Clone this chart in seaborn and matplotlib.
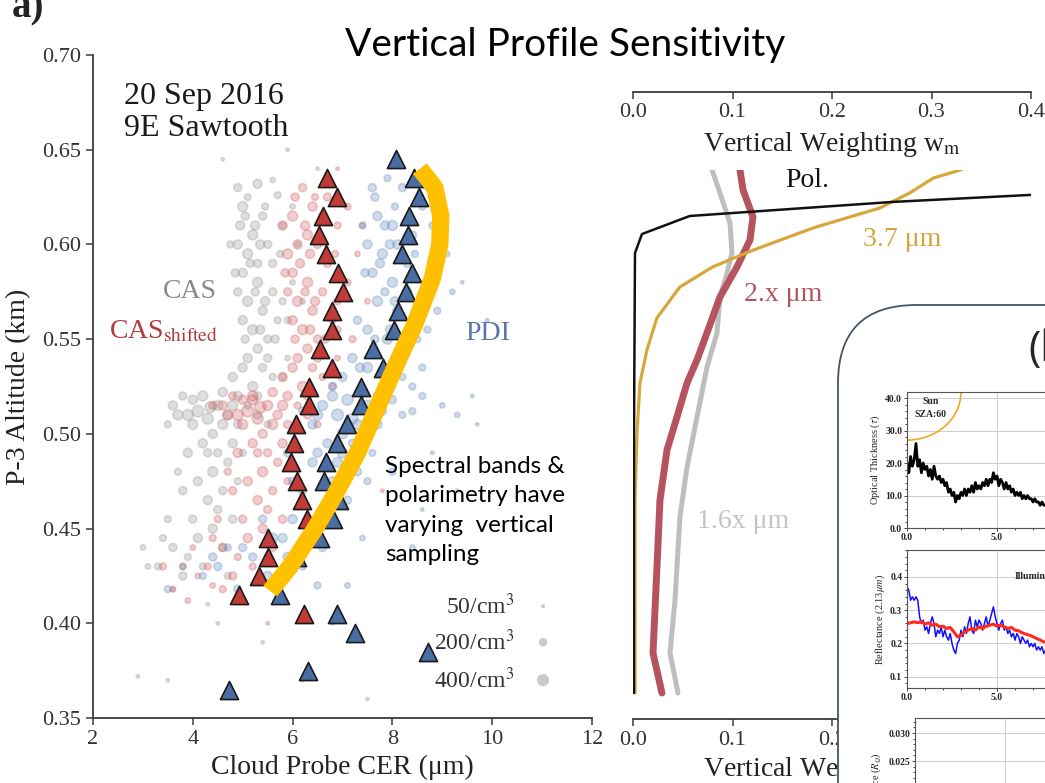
import numpy as np
import pandas as pd
import matplotlib
matplotlib.use("Agg")
import matplotlib.pyplot as plt
import seaborn as sns
from matplotlib.patches import FancyBboxPatch, Arc
from matplotlib.ticker import AutoMinorLocator, FormatStrFormatter

# ---------------- data ----------------
# cloud probe clouds: (CER um, altitude km, concentration /cm3)
cas_pts = [
    (4.9, 0.630, 200), (5.1, 0.625, 150), (5.3, 0.632, 250), (5.6, 0.634, 100), (5.0, 0.620, 300),
    (5.4, 0.615, 200), (4.95, 0.610, 250), (5.2, 0.605, 300), (5.5, 0.600, 200), (5.8, 0.610, 150),
    (5.1, 0.595, 300), (4.9, 0.600, 250), (5.3, 0.590, 200), (6.0, 0.620, 100), (5.7, 0.626, 150),
    (5.0, 0.585, 250), (5.3, 0.580, 300), (5.6, 0.575, 200), (5.1, 0.570, 300), (5.4, 0.565, 250),
    (5.8, 0.570, 150), (5.2, 0.555, 300), (5.5, 0.550, 200), (5.0, 0.560, 250), (5.7, 0.560, 150),
    (5.3, 0.545, 250), (6.0, 0.580, 100), (4.9, 0.575, 200), (5.1, 0.540, 250), (5.4, 0.535, 200),
    (4.8, 0.530, 250), (5.2, 0.525, 300), (5.6, 0.530, 150), (4.9, 0.520, 250), (5.9, 0.540, 100),
    (5.05, 0.615, 200), (5.25, 0.610, 250), (5.45, 0.620, 150), (5.15, 0.590, 200), (5.35, 0.600, 250),
    (5.6, 0.590, 200), (5.75, 0.595, 150), (4.85, 0.585, 200), (5.45, 0.570, 250), (5.25, 0.575, 200),
    (5.65, 0.550, 200), (5.9, 0.560, 150), (5.35, 0.555, 250), (5.05, 0.550, 200), (5.5, 0.540, 200),
    (5.8, 0.530, 150), (5.0, 0.535, 250), (5.3, 0.520, 200), (6.1, 0.600, 100), (6.2, 0.570, 100),
    (4.75, 0.600, 150),
    (3.6, 0.515, 250), (3.9, 0.510, 350), (4.1, 0.512, 400), (4.3, 0.508, 350), (4.5, 0.515, 300),
    (4.7, 0.510, 250), (4.0, 0.505, 300), (4.4, 0.500, 250), (4.9, 0.505, 200), (3.8, 0.520, 200),
    (4.6, 0.522, 250), (5.1, 0.515, 150), (3.5, 0.505, 150), (4.2, 0.520, 300), (4.0, 0.518, 250),
    (4.8, 0.515, 300), (5.3, 0.510, 200), (3.7, 0.510, 300), (4.35, 0.514, 350), (4.6, 0.505, 300),
    (5.5, 0.505, 150),
    (4.2, 0.495, 250), (4.5, 0.490, 200), (3.9, 0.490, 250), (4.4, 0.480, 300), (4.7, 0.485, 200),
    (4.1, 0.475, 250), (4.6, 0.470, 200), (3.7, 0.480, 150), (4.9, 0.475, 150), (4.3, 0.465, 250),
    (5.0, 0.490, 150), (4.3, 0.490, 200), (4.8, 0.495, 250), (3.8, 0.470, 200), (4.5, 0.460, 200),
    (4.0, 0.455, 200), (4.4, 0.450, 250), (3.6, 0.440, 200), (3.9, 0.435, 150), (4.6, 0.440, 200),
    (3.3, 0.430, 150), (3.8, 0.425, 200), (4.2, 0.430, 150), (3.1, 0.430, 100), (4.1, 0.445, 250),
    (3.5, 0.455, 150), (4.8, 0.455, 200), (3.0, 0.440, 100), (3.4, 0.445, 150), (4.7, 0.425, 150),
    (3.6, 0.418, 100),
    (4.5, 0.400, 50), (5.4, 0.390, 50), (6.2, 0.370, 50), (3.5, 0.370, 50), (7.5, 0.360, 50),
    (2.9, 0.372, 50), (6.8, 0.400, 50), (4.3, 0.410, 50), (5.9, 0.650, 50), (4.6, 0.645, 50),
    (6.5, 0.640, 50),
]
shifted_pts = [
    (6.2, 0.630, 200), (6.4, 0.620, 250), (6.0, 0.615, 300), (5.8, 0.610, 250), (6.3, 0.605, 300),
    (6.6, 0.615, 200), (6.1, 0.600, 250), (5.9, 0.595, 300), (6.5, 0.600, 200), (6.9, 0.610, 150),
    (7.1, 0.620, 150), (6.7, 0.625, 200), (6.0, 0.585, 250), (6.3, 0.580, 300), (6.6, 0.575, 200),
    (6.1, 0.570, 300), (6.4, 0.565, 250), (6.9, 0.570, 150), (6.2, 0.555, 300), (6.5, 0.550, 200),
    (6.0, 0.560, 250), (6.8, 0.560, 150), (6.3, 0.545, 250), (7.1, 0.580, 150), (5.9, 0.575, 200),
    (7.3, 0.595, 100), (6.1, 0.540, 250), (6.4, 0.535, 200), (5.8, 0.530, 250), (6.2, 0.525, 300),
    (6.6, 0.530, 150), (5.9, 0.520, 250), (6.9, 0.540, 100),
    (6.05, 0.625, 200), (6.25, 0.610, 250), (6.45, 0.625, 150), (6.15, 0.590, 250), (6.35, 0.595, 250),
    (6.7, 0.590, 200), (6.85, 0.595, 150), (5.85, 0.585, 200), (6.45, 0.570, 250), (6.25, 0.575, 200),
    (6.65, 0.550, 200), (6.9, 0.555, 150), (6.35, 0.555, 250), (6.05, 0.550, 200), (6.5, 0.540, 200),
    (6.8, 0.525, 150), (6.0, 0.535, 250), (6.3, 0.520, 200), (7.4, 0.610, 100), (7.5, 0.570, 100),
    (7.2, 0.550, 150),
    (4.6, 0.515, 250), (4.9, 0.510, 350), (5.1, 0.512, 400), (5.3, 0.508, 350), (5.5, 0.515, 300),
    (5.7, 0.510, 250), (5.0, 0.505, 300), (5.4, 0.500, 250), (5.9, 0.505, 200), (4.8, 0.520, 200),
    (5.6, 0.522, 250), (6.1, 0.515, 150), (5.2, 0.518, 300), (5.2, 0.520, 300), (5.0, 0.518, 250),
    (5.8, 0.515, 300), (6.3, 0.510, 200), (4.7, 0.510, 300), (5.35, 0.514, 400), (5.6, 0.505, 300),
    (6.5, 0.505, 150), (4.4, 0.515, 200),
    (5.2, 0.495, 250), (5.5, 0.490, 200), (4.9, 0.490, 250), (5.4, 0.480, 300), (5.7, 0.485, 200),
    (5.1, 0.475, 250), (5.6, 0.470, 200), (4.7, 0.480, 150), (5.9, 0.475, 150), (5.3, 0.465, 250),
    (5.3, 0.490, 200), (5.8, 0.495, 250), (4.8, 0.470, 200), (5.5, 0.460, 200),
    (5.0, 0.455, 200), (5.4, 0.450, 250), (4.6, 0.440, 200), (4.9, 0.435, 150), (5.6, 0.440, 200),
    (4.3, 0.430, 150), (4.8, 0.425, 200), (5.2, 0.430, 150), (4.1, 0.425, 100), (3.8, 0.430, 150),
    (5.1, 0.445, 250), (4.5, 0.455, 150), (5.8, 0.455, 200), (4.0, 0.440, 100), (4.4, 0.445, 150),
    (3.4, 0.430, 150), (3.6, 0.418, 100), (4.6, 0.418, 150), (3.9, 0.412, 100),
    (5.5, 0.400, 50), (4.4, 0.420, 100), (7.8, 0.470, 50), (6.9, 0.640, 50), (7.6, 0.500, 50),
]
pdi_pts = [
    (7.6, 0.630, 200), (7.9, 0.635, 150), (8.2, 0.630, 200), (8.6, 0.620, 150), (7.7, 0.615, 250),
    (8.0, 0.610, 300), (8.4, 0.605, 200), (7.5, 0.600, 250), (7.8, 0.595, 300), (8.1, 0.600, 250),
    (8.8, 0.610, 150), (7.4, 0.610, 150), (8.7, 0.630, 100), (7.6, 0.585, 250), (8.0, 0.580, 300),
    (8.3, 0.575, 250), (7.7, 0.570, 300), (8.1, 0.565, 250), (8.6, 0.570, 200), (7.5, 0.555, 250),
    (7.9, 0.550, 300), (8.5, 0.550, 150), (9.2, 0.575, 100), (7.3, 0.560, 200), (8.9, 0.585, 150),
    (7.2, 0.540, 250), (7.5, 0.535, 300), (7.0, 0.530, 250), (7.8, 0.525, 200), (8.2, 0.530, 150),
    (6.8, 0.525, 200), (8.6, 0.535, 150),
    (7.65, 0.625, 200), (7.85, 0.610, 250), (8.05, 0.620, 150), (7.75, 0.590, 250), (7.95, 0.600, 250),
    (8.3, 0.590, 200), (8.45, 0.595, 150), (7.45, 0.585, 200), (8.05, 0.570, 250), (7.85, 0.575, 200),
    (8.25, 0.550, 200), (8.7, 0.555, 150), (7.95, 0.555, 250), (7.65, 0.550, 200), (8.1, 0.540, 200),
    (8.4, 0.525, 150), (7.35, 0.535, 250), (7.7, 0.520, 200), (9.0, 0.610, 150), (9.1, 0.595, 100),
    (8.9, 0.565, 150), (9.4, 0.580, 50),
    (6.6, 0.515, 300), (6.9, 0.510, 400), (7.2, 0.508, 350), (7.5, 0.515, 300), (6.4, 0.505, 250),
    (7.0, 0.500, 300), (7.8, 0.512, 200), (8.2, 0.510, 150), (8.6, 0.520, 150), (9.0, 0.515, 100),
    (6.2, 0.512, 200), (7.4, 0.522, 250), (6.8, 0.520, 300), (7.1, 0.518, 350), (7.3, 0.505, 300),
    (6.5, 0.510, 300), (7.7, 0.505, 250), (8.0, 0.518, 200), (8.4, 0.512, 150), (9.3, 0.510, 100),
    (9.7, 0.505, 50),
    (6.7, 0.495, 250), (7.0, 0.490, 300), (6.4, 0.485, 250), (7.3, 0.480, 200), (6.8, 0.475, 250),
    (7.6, 0.490, 150), (6.2, 0.470, 200), (7.1, 0.465, 200), (8.0, 0.480, 150), (5.9, 0.490, 200),
    (6.5, 0.490, 250), (6.9, 0.485, 300), (7.2, 0.495, 200), (7.5, 0.475, 150), (6.0, 0.475, 200),
    (6.6, 0.460, 250),
    (6.0, 0.455, 250), (6.4, 0.450, 200), (5.6, 0.445, 300), (5.9, 0.435, 250), (6.6, 0.440, 200),
    (5.2, 0.435, 200), (5.5, 0.425, 250), (4.5, 0.430, 200), (4.2, 0.425, 150), (6.2, 0.430, 150),
    (5.4, 0.455, 200), (5.8, 0.445, 250), (5.0, 0.440, 200), (4.7, 0.440, 150), (4.4, 0.435, 200),
    (3.8, 0.430, 100), (3.5, 0.418, 150), (4.9, 0.418, 200), (6.5, 0.420, 150), (7.4, 0.445, 100),
    (9.3, 0.470, 50), (8.4, 0.440, 100), (7.1, 0.420, 100), (9.6, 0.520, 50), (9.9, 0.560, 50),
    (8.8, 0.490, 50), (8.6, 0.460, 50),
]

# probe-mean profiles (triangles)
shifted_alt = [0.635, 0.625, 0.615, 0.605, 0.595, 0.585, 0.575, 0.565, 0.555, 0.545, 0.535, 0.525,
               0.515, 0.505, 0.495, 0.485, 0.475, 0.465, 0.455, 0.445, 0.435, 0.425, 0.415, 0.405]
shifted_cer = [6.69, 6.89, 6.61, 6.53, 6.67, 6.91, 7.01, 6.79, 6.79, 6.55, 6.79, 6.33,
               6.33, 6.07, 6.03, 5.97, 6.09, 6.19, 6.29, 5.51, 5.51, 5.33, 4.93, 6.23]
pdi_alt = [0.645, 0.635, 0.625, 0.615, 0.605, 0.595, 0.585, 0.575, 0.565, 0.555, 0.545, 0.535, 0.525, 0.515,
           0.505, 0.495, 0.485, 0.475, 0.465, 0.455, 0.445, 0.435, 0.415, 0.405, 0.395, 0.385, 0.375, 0.365]
pdi_cer = [8.07, 8.43, 8.53, 8.33, 8.31, 8.19, 8.39, 8.27, 8.11, 8.03, 7.61, 7.81, 7.37, 7.37,
           7.09, 6.89, 6.67, 6.63, 6.92, 6.80, 6.55, 6.09, 5.75, 6.88, 7.26, 8.72, 6.31, 4.72]

# highlighted band
band_cer = [8.55, 8.85, 8.97, 8.95, 8.80, 8.45, 8.05, 7.60, 7.30, 6.85, 6.45, 5.95, 5.55]
band_alt = [0.640, 0.630, 0.615, 0.600, 0.582, 0.558, 0.535, 0.508, 0.490, 0.468, 0.450, 0.430, 0.417]

legend_conc = [50, 200, 400]
legend_alt = [0.409, 0.390, 0.370]

# vertical weighting profiles
pol_w = [0.40, 0.261, 0.057, 0.009, 0.002, 0.001, 0.001]
pol_alt = [0.6253, 0.6216, 0.6142, 0.6047, 0.5947, 0.50, 0.3632]
w37 = [0.345, 0.329, 0.302, 0.278, 0.248, 0.181, 0.121, 0.080, 0.047, 0.024, 0.014, 0.007, 0.004, 0.002, 0.002]
alt37 = [0.643, 0.6384, 0.6342, 0.6263, 0.6184, 0.6079, 0.5963, 0.5874, 0.5768, 0.5605, 0.5437, 0.5263,
         0.50, 0.4647, 0.3632]
w2x = [0.1075, 0.1106, 0.1206, 0.1176, 0.1045, 0.0874, 0.0754, 0.0643, 0.0543, 0.0442, 0.0342, 0.0271,
       0.0241, 0.0201, 0.0291]
alt2x = [0.6384, 0.6279, 0.6137, 0.6016, 0.5874, 0.5716, 0.5542, 0.5384, 0.5263, 0.5084, 0.4911, 0.4647,
         0.4295, 0.3842, 0.3632]
w16 = [0.0794, 0.0874, 0.0975, 0.0995, 0.0945, 0.0874, 0.0844, 0.0744, 0.0643, 0.0543, 0.0472, 0.0422,
       0.0372, 0.0452]
alt16 = [0.6384, 0.6263, 0.6105, 0.5947, 0.5842, 0.5716, 0.5526, 0.5347, 0.5084, 0.4821, 0.4558, 0.4121,
         0.3842, 0.3632]

# inset panels
tau = [20, 17, 22, 19, 21, 26, 19, 21, 17, 20,
       18, 19, 16, 18, 15, 19, 16, 15, 16, 14,
       15, 13, 14, 11, 12, 10, 11, 8, 10, 9,
       11, 10, 12, 10, 12, 11, 13, 11, 14, 12,
       13, 12, 14, 13, 15, 13, 15, 14, 17, 15,
       16, 13, 15, 14, 12, 14, 12, 13, 11, 12,
       10, 11, 10, 11, 9, 10, 9, 10, 9, 9,
       8, 9, 8, 8, 7, 8, 7, 7]
refl_blue = [.37, .36, .33, .34, .33, .34, .33, .28, .26, .27,
             .24, .25, .23, .26, .28, .26, .22, .24, .23, .25,
             .22, .24, .22, .21, .23, .20, .18, .17, .20, .21,
             .24, .22, .25, .23, .26, .28, .24, .23, .27, .25,
             .27, .26, .24, .26, .28, .25, .27, .29, .31, .28,
             .26, .24, .26, .27, .24, .25, .23, .24, .22, .23,
             .21, .23, .22, .20, .22, .21, .20, .21, .19, .20,
             .19, .20, .18, .19, .18, .19, .17, .18]
refl_red = [0.26, 0.262, 0.265, 0.262, 0.266, 0.258, 0.262, 0.255, 0.258, 0.25, 0.252, 0.245, 0.248,
            0.235, 0.22, 0.225, 0.235, 0.24, 0.245, 0.24, 0.25, 0.245, 0.252, 0.255, 0.258, 0.252,
            0.255, 0.25, 0.245, 0.248, 0.24, 0.238, 0.232, 0.228, 0.225, 0.22, 0.215, 0.21, 0.205]

# ---------------- style ----------------
sns.set_theme(style="white")
plt.rcParams["font.family"] = ["Liberation Serif", "DejaVu Serif"]
plt.rcParams["mathtext.fontset"] = "stix"

W, H = 1045, 783
fig = plt.figure(figsize=(W / 100, H / 100), dpi=100)


def rect(x0, y0, x1, y1):
    return [x0 / W, 1 - y1 / H, (x1 - x0) / W, (y1 - y0) / H]


AX_COL = "#3a3a3a"
GREY, RED, BLUE = "#9a9a9a", "#d26468", "#6a90c2"
TRI_RED, TRI_BLUE = "#c33b36", "#4a6ea3"

# ---------------- left panel ----------------
ax = fig.add_axes(rect(93, 55, 592, 718))
for pts, col in [(cas_pts, GREY), (shifted_pts, RED), (pdi_pts, BLUE)]:
    df = pd.DataFrame(pts, columns=["cer", "alt", "conc"])
    sns.scatterplot(data=df, x="cer", y="alt", size="conc", sizes=(6, 70), size_norm=(50, 400),
                    color=col, alpha=0.32, edgecolor=col, linewidth=1.2, legend=False, ax=ax, zorder=2)

sns.scatterplot(x=shifted_cer, y=shifted_alt, marker="^", s=170, color=TRI_RED, edgecolor="#1a1a1a",
                linewidth=1.2, ax=ax, zorder=4, legend=False)
sns.scatterplot(x=pdi_cer, y=pdi_alt, marker="^", s=170, color=TRI_BLUE, edgecolor="#1a1a1a",
                linewidth=1.2, ax=ax, zorder=4, legend=False)
sns.lineplot(x=band_cer, y=band_alt, sort=False, estimator=None, color="#FFC000", lw=12.5,
             solid_capstyle="butt", ax=ax, zorder=5)

sns.scatterplot(x=[11.02] * 3, y=legend_alt, size=legend_conc, sizes=(6, 70), size_norm=(50, 400),
                color="#a8a8a8", alpha=0.6, edgecolor="#a8a8a8", legend=False, ax=ax, zorder=3)
for c, a in zip(legend_conc, legend_alt):
    ax.text(10.45, a, f"{c}/cm$^3$", ha="right", va="center", fontsize=17, color="#333333")

ax.set_xlim(2, 12)
ax.set_ylim(0.35, 0.70)
ax.set_xticks([2, 4, 6, 8, 10, 12])
ax.set_yticks(np.arange(0.35, 0.701, 0.05))
ax.yaxis.set_major_formatter(FormatStrFormatter("%.2f"))
ax.set_xlabel("Cloud Probe CER (μm)", fontsize=20, color="#222222", labelpad=4)
ax.set_ylabel("P-3 Altitude (km)", fontsize=20, color="#222222", labelpad=8)
for s in ["top", "right"]:
    ax.spines[s].set_visible(False)
for s in ["left", "bottom"]:
    ax.spines[s].set_color(AX_COL)
    ax.spines[s].set_linewidth(1.3)
ax.tick_params(axis="both", direction="out", length=5, width=1.1, color=AX_COL, labelsize=16,
               labelcolor="#333333", left=True, bottom=True)
ax.set_facecolor("none")

ax.text(2.62, 0.686, "20 Sep 2016\n9E Sawtooth", fontsize=23, va="top", ha="left",
        color="#1a1a1a", linespacing=1.15)
ax.text(3.95, 0.575, "CAS", fontsize=20, color="#8a8a8a", ha="center", va="center")
ax.text(4.5, 0.554, "CAS$_{\\rm shifted}$", fontsize=20, color="#b33a3f", ha="right", va="center")
ax.text(9.9, 0.553, "PDI", fontsize=20, color="#5a76a6", ha="center", va="center")
ax.text(7.85, 0.4595, "Spectral bands &\npolarimetry have\nvarying  vertical\nsampling", fontsize=17.5,
        family=["Lato", "DejaVu Sans"], color="black", ha="left", va="center", linespacing=1.5)

# ---------------- right panel ----------------
axr = fig.add_axes(rect(633, 170, 1031, 719))
sns.lineplot(x=w16, y=alt16, sort=False, estimator=None, color="#bebebe", lw=3.6, ax=axr)
sns.lineplot(x=w2x, y=alt2x, sort=False, estimator=None, color="#b5535f", lw=5.0, ax=axr)
sns.lineplot(x=w37, y=alt37, sort=False, estimator=None, color="#d8a73c", lw=2.3, ax=axr)
sns.lineplot(x=pol_w, y=pol_alt, sort=False, estimator=None, color="#111111", lw=1.8, ax=axr)
axr.set_xlim(0, 0.4)
axr.set_ylim(0.3495, 0.6384)
axr.set_xticks([0, 0.1, 0.2, 0.3, 0.4])
axr.xaxis.set_major_formatter(FormatStrFormatter("%.1f"))
axr.set_yticks([])
axr.set_xlabel("Vertical Weighting w$_{\\rm m}$", fontsize=20, color="#222222", labelpad=4)
axr.set_ylabel("")
for s in ["top", "right", "left"]:
    axr.spines[s].set_visible(False)
axr.spines["bottom"].set_color(AX_COL)
axr.spines["bottom"].set_linewidth(1.3)
axr.tick_params(axis="x", direction="out", length=5, width=1.1, color=AX_COL, labelsize=16,
                labelcolor="#333333", bottom=True)
axr.set_facecolor("none")
axr.text(0.175, 0.633, "Pol.", fontsize=20, color="#111111", ha="center", va="center", clip_on=False)
axr.text(0.271, 0.602, "3.7 μm", fontsize=20, color="#d4a43a", ha="center", va="center")
axr.text(0.151, 0.573, "2.x μm", fontsize=20, color="#b5535f", ha="center", va="center")
axr.text(0.111, 0.4532, "1.6x μm", fontsize=20, color="#c4c4c4", ha="center", va="center")

axt = fig.add_axes(rect(633, 60, 1031, 92))
axt.set_xlim(0, 0.4)
axt.set_xticks([0, 0.1, 0.2, 0.3, 0.4])
axt.xaxis.set_major_formatter(FormatStrFormatter("%.1f"))
axt.set_yticks([])
for s in ["top", "right", "left"]:
    axt.spines[s].set_visible(False)
axt.spines["bottom"].set_color(AX_COL)
axt.spines["bottom"].set_linewidth(1.3)
axt.tick_params(axis="x", direction="out", length=5, width=1.1, color=AX_COL, labelsize=16,
                labelcolor="#333333", bottom=True, pad=3)
axt.set_xlabel("Vertical Weighting w$_{\\rm m}$", fontsize=20, color="#222222", labelpad=6)
axt.set_facecolor("none")

# ---------------- inset (slide overlay) ----------------
box = FancyBboxPatch((838 / W, -0.2), 0.5, 1 - 305 / H + 0.2,
                     boxstyle="round,pad=0,rounding_size=0.075", transform=fig.transFigure,
                     facecolor="white", edgecolor="#44546a", linewidth=1.3, zorder=5,
                     mutation_aspect=W / H)
fig.add_artist(box)
fig.text(1028 / W, 1 - 350 / H, "(b)", fontsize=30, family=["Open Sans", "DejaVu Sans"],
         va="center", ha="left", zorder=7)

small = dict(fontsize=7, fontweight="bold")
xs_tau = np.linspace(0, 7.7, len(tau))
ax1 = fig.add_axes(rect(907, 392, 1100, 528))
ax1.set_zorder(6)
sns.lineplot(x=xs_tau, y=tau, color="black", lw=2.0, ax=ax1)
ax1.set_xlim(0, 10.72)
ax1.set_ylim(0, 41.85)
ax1.add_patch(Arc((0, 41.85), 6.0, 29.6, theta1=180, theta2=360, color="#f5a623", lw=1.2))
ax1.text(1.3, 38.8, "Sun", ha="center", va="center", **small)
ax1.text(1.3, 34.8, "SZA:60", ha="center", va="center", **small)
ax1.set_ylabel("Optical Thickness ($\\tau$)", fontsize=7.5, labelpad=2)

xs_b = np.linspace(0, 7.7, len(refl_blue))
xs_r = np.linspace(0, 7.6, len(refl_red))
ax2 = fig.add_axes(rect(907, 550, 1100, 688))
ax2.set_zorder(6)
sns.lineplot(x=xs_b, y=refl_blue, color="#1010ff", lw=1.1, ax=ax2)
sns.lineplot(x=xs_r, y=refl_red, color="#ff2a1a", lw=2.2, ax=ax2)
ax2.set_xlim(0, 10.72)
ax2.set_ylim(0.066, 0.481)
ax2.text(6.0, 0.40, "Illuminated", ha="left", va="center", **small)
ax2.set_ylabel("Reflectance (2.13$\\mu m$)", fontsize=7.5, labelpad=2)

ax3 = fig.add_axes(rect(915, 718, 1100, 900))
ax3.set_zorder(6)
ax3.set_xlim(0, 10.3)
ax3.set_ylim(0.0002, 0.03268)
ax3.set_ylabel("Polarized Reflectance ($R_Q$)", fontsize=7.5, labelpad=4)

for a, yt, fmt in [(ax1, [0, 10, 20, 30, 40], "%.1f"), (ax2, [0.1, 0.2, 0.3, 0.4], "%.1f"),
                   (ax3, [0.025, 0.030], "%.3f")]:
    a.set_facecolor("white")
    a.set_xticks([0, 5, 10])
    a.set_yticks(yt)
    a.yaxis.set_major_formatter(FormatStrFormatter(fmt))
    a.xaxis.set_major_formatter(FormatStrFormatter("%.1f"))
    a.xaxis.set_minor_locator(AutoMinorLocator(5))
    a.yaxis.set_minor_locator(AutoMinorLocator(5))
    a.grid(True, which="major", color="#d0d0d0", lw=0.8)
    for s in a.spines.values():
        s.set_color("#555555")
        s.set_linewidth(0.8)
    a.tick_params(which="both", direction="out", labelsize=7, length=2.5, width=0.6, left=True,
                  bottom=True, pad=1)
    a.tick_params(which="minor", length=1.5)
    for lab in a.get_xticklabels() + a.get_yticklabels():
        lab.set_fontweight("bold")

fig.text(12 / W, 1 - 17 / H, "a)", fontsize=28, fontweight="bold", color="#222222", va="baseline")
fig.text(565 / W, 1 - 45 / H, "Vertical Profile Sensitivity", fontsize=28,
         family=["Lato", "DejaVu Sans"], ha="center", va="center", color="black")

fig.savefig("out.png", dpi=100)
